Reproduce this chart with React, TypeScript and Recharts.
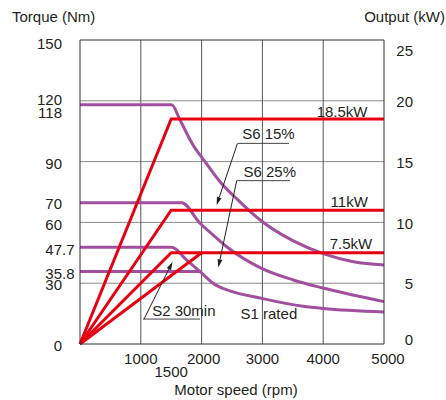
import { CartesianGrid, ComposedChart, Line, ReferenceDot, ReferenceLine, XAxis, YAxis } from "recharts"

const speedTicks = [1000, 1500, 2000, 3000, 4000, 5000]
const torqueTicks = [0, 30, 35.8, 47.7, 60, 70, 90, 118, 120, 150]
const outputTicks = [0, 5, 10, 15, 20, 25]
const gridSpeed = [1000, 2000, 3000, 4000]
const gridTorque = [30, 60, 90, 120]

// torque curves, [rpm, Nm]
const s6_15 = [[0, 118], [1508, 118], [1645, 110.5], [1859, 98.2], [2056, 90], [2300, 80.2], [2600, 71], [3000, 60.3], [3500, 51], [4000, 44.6], [4500, 40.6], [5000, 39]]
const s6_25 = [[0, 69.7], [1672, 69.7], [1974, 59.6], [2200, 53.5], [2413, 48], [2961, 37.7], [3508, 31.6], [3997, 27.6], [5000, 20.9]]
const s2_30 = [[0, 47.7], [1508, 47.7], [1755, 41.4], [1974, 35.7], [2193, 29.9], [2467, 26.2], [2961, 22.7], [3668, 18.6], [4000, 17.5], [5000, 15.8]]
const s1 = [[0, 35.8], [2000, 35.8]]

// output curves, [rpm, kW]
const p185 = [[0, 0], [1500, 18.5], [5000, 18.5]]
const p11 = [[0, 0], [1500, 11], [5000, 11]]
const p75 = [[0, 0], [1500, 7.5], [5000, 7.5]]
const p75s1 = [[0, 0], [2000, 7.5]]

const toRows = (a: number[][]) => a.map(([x, v]) => ({ x, v }))

const FONT = "Liberation Sans, Arial, Helvetica, sans-serif"
const INK = "#231f20"
const RED = "#e60012"
const PURPLE = "#a24f9f"

const leftDy: Record<string, number> = { "118": 7.7, "120": -1.5, "150": 3.3 }
const rightDy: Record<string, number> = { "25": 11, "0": -4 }

const TorqueTick = ({ x, y, payload }: any) => {
    const [ip, fp] = String(payload.value).split(".")
    const ty = y + (leftDy[String(payload.value)] ?? 2)
    return (
        <g fontFamily={FONT} fontSize={15} fill={INK}>
            <text x={x - 18} y={ty} dy="0.35em" textAnchor="end">{ip}</text>
            {fp && <text x={x - 18} y={ty} dy="0.35em" textAnchor="start">.{fp}</text>}
        </g>
    )
}

const OutputTick = ({ x, y, payload }: any) => (
    <text x={x + 29} y={y + (rightDy[String(payload.value)] ?? 1)} dy="0.35em" textAnchor="end"
        fontFamily={FONT} fontSize={15} fill={INK}>{payload.value}</text>
)

const SpeedTick = ({ x, y, payload }: any) => (
    <text x={x + (payload.value === 5000 ? 4 : payload.value === 2000 ? 2 : 0)} y={y + (payload.value === 1500 ? 27.7 : 14.3)}
        dy="0.35em" textAnchor="middle" fontFamily={FONT} fontSize={15} fill={INK}>{payload.value}</text>
)

const Arrow = (props: any) => {
    const { x1, y1, x2, y2 } = props
    const a = Math.atan2(y2 - y1, x2 - x1)
    const L = 8, W = 2.4
    const bx = x2 - L * Math.cos(a), by = y2 - L * Math.sin(a)
    const pts = `${x2},${y2} ${bx + W * Math.sin(a)},${by - W * Math.cos(a)} ${bx - W * Math.sin(a)},${by + W * Math.cos(a)}`
    return (
        <g>
            <line x1={x1} y1={y1} x2={bx} y2={by} stroke={INK} strokeWidth={1} />
            <polygon points={pts} fill={INK} />
        </g>
    )
}

const note = (value: string, position: "left" | "right") => ({
    value, position, offset: 0, fill: INK, fontSize: 15, fontFamily: FONT,
})

export default function App() {
    return (
        <div style={{ width: 446, height: 400 }}>
            <style>{"body{margin:0}"}</style>
            <ComposedChart width={446} height={400} margin={{ top: 40, right: 0, bottom: 0, left: 0 }}>
                <CartesianGrid yAxisId="t" vertical={false} horizontalValues={gridTorque} stroke="#8a8a8a" />
                <CartesianGrid yAxisId="t" horizontal={false} verticalValues={gridSpeed} stroke="#555" />
                <XAxis
                    type="number"
                    dataKey="x"
                    domain={[0, 5000]}
                    ticks={speedTicks}
                    interval={0}
                    height={56}
                    tickSize={0}
                    tickMargin={0}
                    axisLine={{ stroke: "#333" }}
                    tick={<SpeedTick />}
                    label={{
                        content: ({ viewBox }: any) => (
                            <text x={viewBox.x + viewBox.width / 2 + 4} y={viewBox.y + 46} dy="0.35em" textAnchor="middle"
                                fontFamily={FONT} fontSize={15} fill={INK}>Motor speed (rpm)</text>
                        ),
                    }}
                />
                <YAxis
                    yAxisId="t"
                    type="number"
                    domain={[0, 150]}
                    ticks={torqueTicks}
                    interval={0}
                    width={80}
                    tickSize={0}
                    tickMargin={0}
                    axisLine={{ stroke: "#333" }}
                    tick={<TorqueTick />}
                    label={{
                        content: () => (
                            <text x={12} y={17} dy="0.35em" textAnchor="start"
                                fontFamily={FONT} fontSize={15} fill={INK}>Torque (Nm)</text>
                        ),
                    }}
                />
                <YAxis
                    yAxisId="p"
                    orientation="right"
                    type="number"
                    domain={[0, 25]}
                    ticks={outputTicks}
                    interval={0}
                    width={62}
                    tickSize={0}
                    tickMargin={0}
                    axisLine={{ stroke: "#333" }}
                    tick={<OutputTick />}
                    label={{
                        content: () => (
                            <text x={445} y={17} dy="0.35em" textAnchor="end"
                                fontFamily={FONT} fontSize={15} fill={INK}>Output (kW)</text>
                        ),
                    }}
                />
                <ReferenceLine yAxisId="t" y={150} stroke="#333" />

                <Line yAxisId="t" data={toRows(s6_15)} dataKey="v" type="monotone" stroke={PURPLE} strokeWidth={3} dot={false} activeDot={false} isAnimationActive={false} />
                <Line yAxisId="t" data={toRows(s6_25)} dataKey="v" type="monotone" stroke={PURPLE} strokeWidth={3} dot={false} activeDot={false} isAnimationActive={false} />
                <Line yAxisId="t" data={toRows(s2_30)} dataKey="v" type="monotone" stroke={PURPLE} strokeWidth={3} dot={false} activeDot={false} isAnimationActive={false} />
                <Line yAxisId="t" data={toRows(s1)} dataKey="v" type="linear" stroke={PURPLE} strokeWidth={3} dot={false} activeDot={false} isAnimationActive={false} />

                <Line yAxisId="p" data={toRows(p185)} dataKey="v" type="linear" stroke={RED} strokeWidth={3} dot={false} activeDot={false} isAnimationActive={false} />
                <Line yAxisId="p" data={toRows(p11)} dataKey="v" type="linear" stroke={RED} strokeWidth={3} dot={false} activeDot={false} isAnimationActive={false} />
                <Line yAxisId="p" data={toRows(p75)} dataKey="v" type="linear" stroke={RED} strokeWidth={3} dot={false} activeDot={false} isAnimationActive={false} />
                <Line yAxisId="p" data={toRows(p75s1)} dataKey="v" type="linear" stroke={RED} strokeWidth={3} dot={false} activeDot={false} isAnimationActive={false} />

                {/* leader lines */}
                <ReferenceLine yAxisId="t" segment={[{ x: 2599, y: 99 }, { x: 3438, y: 99 }]} stroke="#444" />
                <ReferenceLine yAxisId="t" segment={[{ x: 2590, y: 99 }, { x: 2248, y: 68.6 }]} shape={Arrow} />
                <ReferenceLine yAxisId="t" segment={[{ x: 2577, y: 80.6 }, { x: 3454, y: 80.6 }]} stroke="#444" />
                <ReferenceLine yAxisId="t" segment={[{ x: 2577, y: 80.6 }, { x: 2275, y: 37.8 }]} shape={Arrow} />
                <ReferenceLine yAxisId="t" segment={[{ x: 1036, y: 12.3 }, { x: 1974, y: 12.3 }]} stroke="#444" />
                <ReferenceLine yAxisId="t" segment={[{ x: 1053, y: 12.3 }, { x: 1521, y: 40.5 }]} shape={Arrow} />

                {/* texts */}
                <ReferenceDot yAxisId="t" x={4737} y={114.5} r={0.5} fill="none" stroke="none" label={note("18.5kW", "left")} />
                <ReferenceDot yAxisId="t" x={4742} y={70.2} r={0.5} fill="none" stroke="none" label={note("11kW", "left")} />
                <ReferenceDot yAxisId="t" x={4814} y={49.7} r={0.5} fill="none" stroke="none" label={note("7.5kW", "left")} />
                <ReferenceDot yAxisId="t" x={2659} y={103.6} r={0.5} fill="none" stroke="none" label={note("S6 15%", "right")} />
                <ReferenceDot yAxisId="t" x={2681} y={85} r={0.5} fill="none" stroke="none" label={note("S6 25%", "right")} />
                <ReferenceDot yAxisId="t" x={1179} y={16.4} r={0.5} fill="none" stroke="none" label={note("S2 30min", "right")} />
                <ReferenceDot yAxisId="t" x={2632} y={15.1} r={0.5} fill="none" stroke="none" label={note("S1 rated", "right")} />
            </ComposedChart>
        </div>
    )
}
